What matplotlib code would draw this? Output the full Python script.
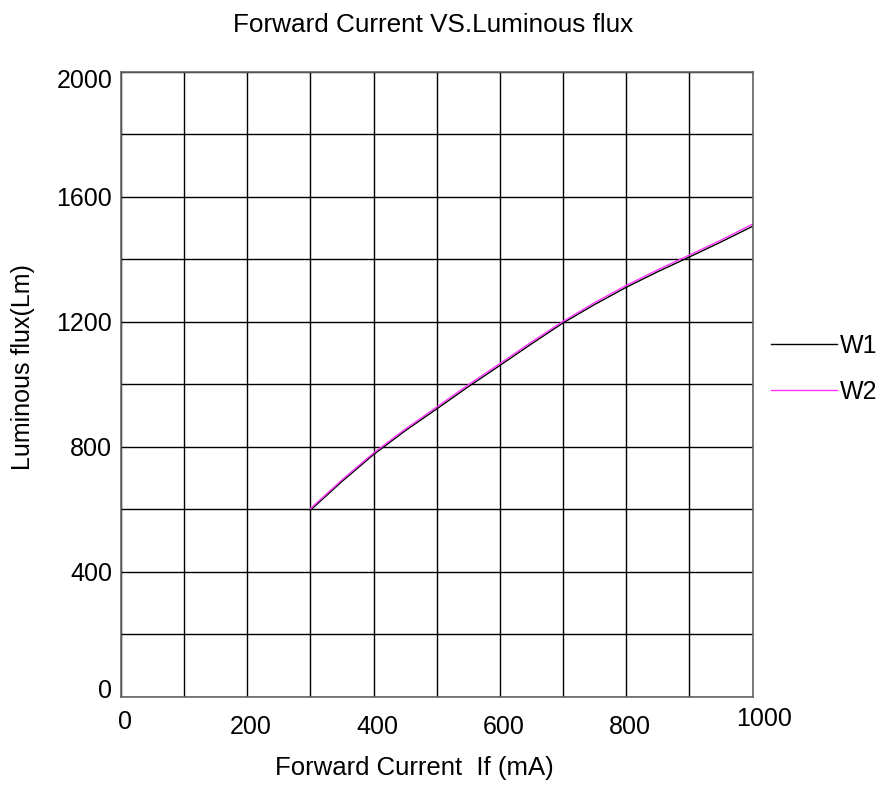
import numpy as np
import matplotlib.pyplot as plt

plt.rcParams['font.family'] = ['Liberation Sans', 'DejaVu Sans']

# forward current (mA) vs luminous flux (Lm)
current = [300, 350, 400, 450, 500, 550, 600, 650, 700, 750, 800, 850, 900, 950, 1000]
w1_flux = [598, 690, 776, 852, 922, 993, 1061, 1130, 1197, 1256, 1311, 1361, 1408, 1456, 1506]
w2_flux = [603, 695, 781, 857, 928, 999, 1067, 1136, 1202, 1262, 1317, 1367, 1414, 1462, 1513]

xtick_vals = [0, 200, 400, 600, 800, 1000]
ytick_vals = [0, 400, 800, 1200, 1600, 2000]

fig = plt.figure(figsize=(8.82, 7.85), dpi=100)
ax = fig.add_axes([0.1372, 0.1121, 0.7160, 0.7962])

ax.plot(current, w1_flux, color='black', lw=1.0, label='W1')
ax.plot(current, w2_flux, color='#ff33ff', lw=1.0, label='W2')

ax.set_xlim(0, 1000)
ax.set_ylim(0, 2000)
ax.set_xticks(np.arange(0, 1001, 100))
ax.set_yticks(np.arange(0, 2001, 200))
ax.grid(True, color='black', lw=1.0)
ax.tick_params(length=0, labelbottom=False, labelleft=False)
for s in ax.spines.values():
    s.set_color('#666666')
    s.set_linewidth(1.2)

# tick labels placed by hand (ends sit a bit higher, like the original)
for v in xtick_vals:
    if v == 0:
        dy, dx = -0.021, 6
    elif v == 1000:
        dy, dx = -0.016, 19
    else:
        dy, dx = -0.029, 6
    ax.text(v + dx, dy, str(v), transform=ax.get_xaxis_transform(),
            ha='center', va='top', fontsize=18)
for v in ytick_vals:
    if v == 0:
        y, va = -0.009, 'bottom'
    elif v == 2000:
        y, va = 1.004, 'top'
    else:
        y, va = v / 2000, 'center_baseline'
    ax.text(-0.014, y, str(v), transform=ax.transAxes,
            ha='right', va=va, fontsize=18)

ax.set_title('Forward Current VS.Luminous flux', fontsize=18.8, x=0.494, pad=29)
ax.set_xlabel('Forward Current  If (mA)', fontsize=18.5)
ax.xaxis.set_label_coords(0.464, -0.094)
ax.set_ylabel('Luminous flux(Lm)', fontsize=18)
ax.yaxis.set_label_coords(-0.136, 0.528)

ax.legend(loc='center left', bbox_to_anchor=(1.029, 0.525), frameon=False,
          fontsize=18, handlelength=2.65, handletextpad=0.1,
          labelspacing=0.9, borderpad=0, borderaxespad=0)

fig.savefig('out.png', dpi=100)
